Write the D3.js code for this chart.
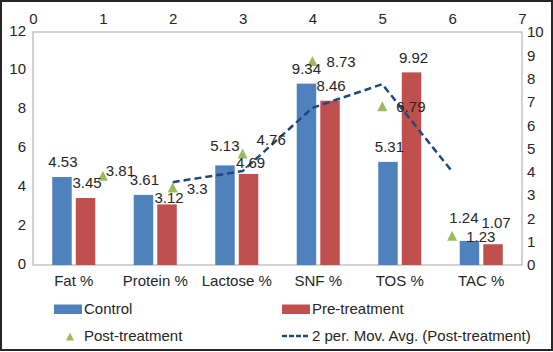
<!DOCTYPE html>
<html>
<head>
<meta charset="utf-8">
<script src="https://cdn.jsdelivr.net/npm/d3@7/dist/d3.min.js"></script>
<style>
  html, body { margin: 0; padding: 0; background: #fff; }
  svg { display: block; font-family: "Liberation Sans", Arial, sans-serif; }
</style>
</head>
<body>
<svg id="chart" width="553" height="352"></svg>
<script>
// ---- data ----
const categories = ["Fat %", "Protein %", "Lactose %", "SNF %", "TOS %", "TAC %"];
const control = [4.53, 3.61, 5.13, 9.34, 5.31, 1.24];
const preTreatment = [3.45, 3.12, 4.69, 8.46, 9.92, 1.07];
const postTreatment = [3.81, 3.3, 4.76, 8.73, 6.79, 1.23];
const postX = [1, 2, 3, 4, 5, 6];          // secondary (top) x-axis values
const leftTicks = [0, 2, 4, 6, 8, 10, 12];
const rightTicks = [0, 1, 2, 3, 4, 5, 6, 7, 8, 9, 10];
const topTicks = [0, 1, 2, 3, 4, 5, 6, 7];
const seriesNames = ["Control", "Pre-treatment", "Post-treatment", "2 per. Mov. Avg. (Post-treatment)"];

// ---- layout / style (not data) ----
const colors = { control: "#4F81BD", pre: "#C0504D", post: "#9BBB59", ma: "#1F497D", text: "#262626", frame: "#A6A6A6" };
const plot = { left: 33, right: 522, top: 32, bottom: 265 };
// manual label nudges [dx, dy] (label position tweaks as in the source chart)
const ctrlNudge = [[1, 0], [1, 0], [0, -4.5], [0, 0], [1.5, 0], [-5.5, -8.5]];
const preNudge = [[1.5, 0], [2, 8], [2, 4], [1, 0], [2, 0], [3, -6.5]];
const postNudge = [[-11, -6], [0, 0], [0, -14], [0, 0], [0, 0], [0, 0]];

const svg = d3.select("#chart");

// outer frame
svg.append("rect").attr("x", 1).attr("y", 1).attr("width", 551).attr("height", 349)
  .attr("fill", "none").attr("stroke", "#262626").attr("stroke-width", 2);

const x = d3.scaleBand().domain(categories).range([plot.left, plot.right]);
const yL = d3.scaleLinear().domain([0, 12]).range([plot.bottom, plot.top]);
const yR = d3.scaleLinear().domain([0, 10]).range([plot.bottom, plot.top]);
const xT = d3.scaleLinear().domain([0, 7]).range([plot.left, plot.right]);

// plot area frame
svg.append("rect").attr("x", plot.left).attr("y", plot.top)
  .attr("width", plot.right - plot.left).attr("height", plot.bottom - plot.top)
  .attr("fill", "none").attr("stroke", colors.frame).attr("stroke-width", 1);

function styleAxis(g) {
  g.select(".domain").remove();
  g.selectAll("line").remove();
  g.selectAll("text").attr("fill", colors.text).style("font-size", "15px")
    .style("font-family", "'Liberation Sans', Arial, sans-serif");
}
const fmt = d3.format("d");

svg.append("g").attr("transform", `translate(${plot.left},0)`)
  .call(d3.axisLeft(yL).tickValues(leftTicks).tickFormat(fmt).tickSize(0).tickPadding(7))
  .call(styleAxis).selectAll("text").attr("dy", "0.2em");

svg.append("g").attr("transform", `translate(${plot.right},0)`)
  .call(d3.axisRight(yR).tickValues(rightTicks).tickFormat(fmt).tickSize(0).tickPadding(5))
  .call(styleAxis).selectAll("text").attr("dy", "0.32em");

svg.append("g").attr("transform", `translate(0,${plot.top})`)
  .call(d3.axisTop(xT).tickValues(topTicks).tickFormat(fmt).tickSize(0).tickPadding(8))
  .call(styleAxis);

svg.append("g").attr("transform", `translate(0,${plot.bottom})`)
  .call(d3.axisBottom(x).tickSize(0).tickPadding(10))
  .call(styleAxis);

// bars
const bw = x.bandwidth() * 0.239, gap = x.bandwidth() * 0.025;
const cx = c => x(c) + x.bandwidth() / 2;

svg.append("g").selectAll("rect").data(control).join("rect")
  .attr("x", (d, i) => cx(categories[i]) - gap - bw)
  .attr("y", d => yL(d)).attr("width", bw).attr("height", d => yL(0) - yL(d))
  .attr("fill", colors.control);

svg.append("g").selectAll("rect").data(preTreatment).join("rect")
  .attr("x", (d, i) => cx(categories[i]) + gap)
  .attr("y", d => yL(d)).attr("width", bw).attr("height", d => yL(0) - yL(d))
  .attr("fill", colors.pre);

// moving average (2 period) of post-treatment
const ma = [];
for (let i = 1; i < postTreatment.length; i++) {
  ma.push({ x: postX[i], v: (postTreatment[i] + postTreatment[i - 1]) / 2 });
}
svg.append("path").datum(ma)
  .attr("d", d3.line().x(d => xT(d.x)).y(d => yR(d.v)))
  .attr("fill", "none").attr("stroke", colors.ma).attr("stroke-width", 2.5)
  .attr("stroke-dasharray", "7,4");

// post-treatment triangles
const tri = (s) => `M0,${-s * 0.55}L${s * 0.5},${s * 0.45}L${-s * 0.5},${s * 0.45}Z`;
svg.append("g").selectAll("path").data(postTreatment).join("path")
  .attr("transform", (d, i) => `translate(${xT(postX[i])},${yR(d)})`)
  .attr("d", tri(10)).attr("fill", colors.post);

// data labels
const lbl = svg.append("g").style("font-size", "15px").attr("fill", colors.text);
control.forEach((d, i) => {
  lbl.append("text").attr("text-anchor", "middle")
    .attr("x", cx(categories[i]) - gap - bw / 2 + ctrlNudge[i][0])
    .attr("y", yL(d) - 15 + ctrlNudge[i][1]).attr("dy", "0.36em").text(d);
});
preTreatment.forEach((d, i) => {
  lbl.append("text").attr("text-anchor", "middle")
    .attr("x", cx(categories[i]) + gap + bw / 2 + preNudge[i][0])
    .attr("y", yL(d) - 15 + preNudge[i][1]).attr("dy", "0.36em").text(d);
});
postTreatment.forEach((d, i) => {
  lbl.append("text").attr("text-anchor", "start")
    .attr("x", xT(postX[i]) + 14 + postNudge[i][0])
    .attr("y", yR(d) + postNudge[i][1]).attr("dy", "0.36em").text(d);
});

// legend
const lg = svg.append("g").style("font-size", "15px").attr("fill", colors.text);
lg.append("rect").attr("x", 54).attr("y", 304.5).attr("width", 28).attr("height", 9.5).attr("fill", colors.control);
lg.append("text").attr("x", 84).attr("y", 309).attr("dy", "0.36em").text(seriesNames[0]);
lg.append("rect").attr("x", 282).attr("y", 304.5).attr("width", 28).attr("height", 9.5).attr("fill", colors.pre);
lg.append("text").attr("x", 312).attr("y", 309).attr("dy", "0.36em").text(seriesNames[1]);
lg.append("path").attr("transform", "translate(70,337)").attr("d", tri(8)).attr("fill", colors.post);
lg.append("text").attr("x", 84).attr("y", 336).attr("dy", "0.36em").text(seriesNames[2]);
lg.append("line").attr("x1", 282).attr("x2", 310).attr("y1", 336).attr("y2", 336)
  .attr("stroke", colors.ma).attr("stroke-width", 2.5).attr("stroke-dasharray", "5,2");
lg.append("text").attr("x", 312).attr("y", 336).attr("dy", "0.36em").text(seriesNames[3]);
</script>
</body>
</html>
